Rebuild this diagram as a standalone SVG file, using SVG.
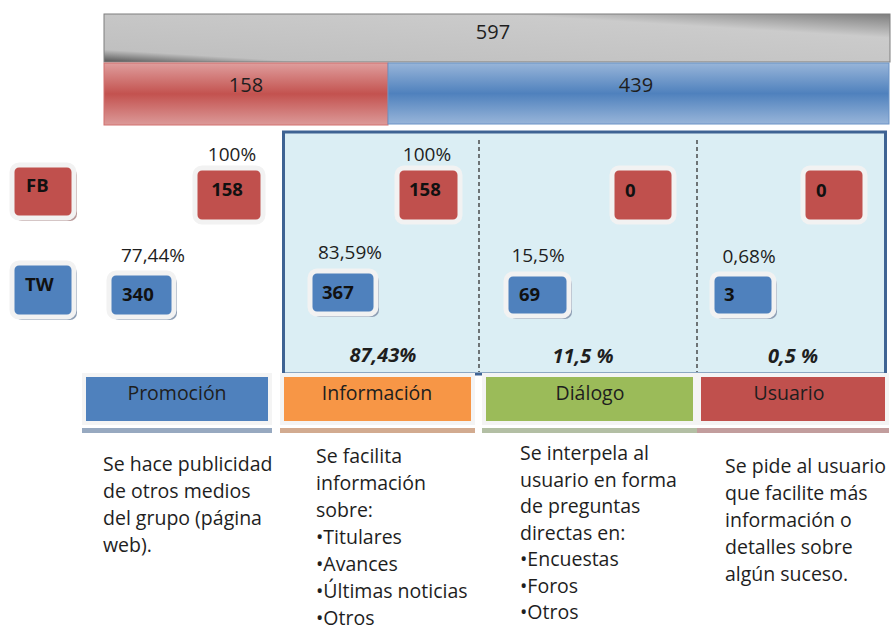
<svg xmlns="http://www.w3.org/2000/svg" width="891" height="625" viewBox="0 0 891 625">
<defs>
<linearGradient id="gGrey" x1="0" y1="1" x2="1" y2="0">
<stop offset="0" stop-color="#555555"/><stop offset="0.13" stop-color="#c0c0c0"/><stop offset="0.75" stop-color="#cbcbcb"/><stop offset="1" stop-color="#7e7e7e"/>
</linearGradient>
<linearGradient id="gRed" x1="0" y1="0" x2="0" y2="1">
<stop offset="0" stop-color="#df9e9d"/><stop offset="0.5" stop-color="#c3524f"/><stop offset="1" stop-color="#dc9a99"/>
</linearGradient>
<linearGradient id="gBlue" x1="0" y1="0" x2="0" y2="1">
<stop offset="0" stop-color="#98b5d9"/><stop offset="0.5" stop-color="#4f81bd"/><stop offset="1" stop-color="#98b5d9"/>
</linearGradient>
</defs>
<style>
.t{font-family:"Open Sans","Liberation Sans",sans-serif;fill:#1e1e1e;}
.pct{font-size:19px;text-anchor:middle;}
.bi{font-size:20px;font-weight:bold;font-style:italic;text-anchor:middle;}
.num{font-family:"Open Sans","Liberation Sans",sans-serif;font-weight:bold;font-size:18.5px;fill:#111;}
.box{stroke:#f2f2f2;stroke-width:5;}
.red{fill:#c0504d;}
.blue{fill:#4f81bd;}
.shR{fill:#b99a9a;}
.shB{fill:#8f9fb5;}
.cat{stroke:#f4f4f4;stroke-width:4;}
.catt{font-size:19.5px;text-anchor:middle;}
.body{font-size:19.5px;}
.dash{stroke:#333;stroke-width:1.3;stroke-dasharray:4 3;fill:none;}
</style>

<g id="total-597">
<rect x="104" y="14" width="786" height="48" fill="url(#gGrey)" stroke="#7f7f7f" stroke-width="1"/>
<text class="t" x="493" y="39" font-size="20" text-anchor="middle">597</text>
</g>
<g id="fb-158-bar">
<rect x="104" y="63" width="284" height="62" fill="url(#gRed)" stroke="#d2706e" stroke-width="1"/>
<text class="t" x="246" y="92" font-size="20" text-anchor="middle">158</text>
</g>
<g id="tw-439-bar">
<rect x="388" y="63" width="501" height="61" fill="url(#gBlue)" stroke="#6b93c6" stroke-width="1"/>
<text class="t" x="636" y="92" font-size="20" text-anchor="middle">439</text>
</g>

<g id="panel">
<rect x="283.5" y="132" width="602" height="242" fill="#dbeef4" stroke="#3e6393" stroke-width="3"/>
</g>

<g id="connectors">
<line class="dash" x1="479" y1="140" x2="479" y2="372"/>
<line class="dash" x1="697" y1="140" x2="697" y2="372"/>
</g>

<g id="fb-label">
<rect x="15" y="168" width="62" height="53" rx="7" class="shR"/>
<rect x="12" y="165" width="62" height="53" rx="7" class="box red"/>
<text class="num" x="26" y="192">FB</text>
</g>
<g id="tw-label">
<rect x="15" y="266" width="62" height="54" rx="7" class="shB"/>
<rect x="12" y="263" width="62" height="54" rx="7" class="box blue"/>
<text class="num" x="25" y="291">TW</text>
</g>

<g id="promo-fb">
<text class="t pct" x="232" y="161">100%</text>
<rect x="195" y="168" width="68" height="54" rx="7" class="box red"/>
<text class="num" x="227" y="196" text-anchor="middle">158</text>
</g>
<g id="promo-tw">
<text class="t pct" x="153" y="262">77,44%</text>
<rect x="112" y="276" width="65" height="44" rx="7" class="shB"/>
<rect x="109" y="273" width="65" height="44" rx="7" class="box blue"/>
<text class="num" x="122" y="301">340</text>
</g>

<g id="info-fb">
<text class="t pct" x="427" y="161">100%</text>
<rect x="397" y="168" width="63" height="54" rx="7" class="box red"/>
<text class="num" x="409" y="196">158</text>
</g>
<g id="info-tw">
<text class="t pct" x="350" y="259">83,59%</text>
<rect x="313" y="274" width="66" height="43" rx="7" class="shB"/>
<rect x="310" y="271" width="66" height="43" rx="7" class="box blue"/>
<text class="num" x="322" y="299">367</text>
</g>
<g id="info-total"><text class="t bi" x="383" y="362">87,43%</text></g>

<g id="dialog-fb">
<rect x="612" y="168" width="62" height="54" rx="7" class="box red"/>
<text class="num" x="625" y="197">0</text>
</g>
<g id="dialog-tw">
<text class="t pct" x="538" y="262">15,5%</text>
<rect x="509" y="277" width="63" height="42" rx="7" class="shB"/>
<rect x="506" y="274" width="63" height="42" rx="7" class="box blue"/>
<text class="num" x="519" y="301">69</text>
</g>
<g id="dialog-total"><text class="t bi" x="583" y="363">11,5 %</text></g>

<g id="user-fb">
<rect x="803" y="168" width="62" height="54" rx="7" class="box red"/>
<text class="num" x="816" y="197">0</text>
</g>
<g id="user-tw">
<text class="t pct" x="749" y="263">0,68%</text>
<rect x="715" y="277" width="62" height="42" rx="7" class="shB"/>
<rect x="712" y="274" width="62" height="42" rx="7" class="box blue"/>
<text class="num" x="724" y="301">3</text>
</g>
<g id="user-total"><text class="t bi" x="793" y="363">0,5 %</text></g>

<g id="cat-promocion">
<rect x="82" y="428" width="190" height="5" fill="#97a9c0"/>
<rect x="84" y="375" width="186" height="48" class="cat" fill="#4f81bd"/>
<text class="t catt" x="177" y="400">Promoción</text>
</g>
<g id="cat-informacion">
<rect x="280" y="428" width="195" height="5" fill="#d2ab90"/>
<rect x="282" y="375" width="191" height="48" class="cat" fill="#f79646"/>
<text class="t catt" x="377" y="400">Información</text>
</g>
<g id="cat-dialogo">
<rect x="482" y="428" width="215" height="5" fill="#b3bfa4"/>
<rect x="484" y="375" width="211" height="48" class="cat" fill="#9bbb59"/>
<text class="t catt" x="590" y="400">Diálogo</text>
</g>
<g id="cat-usuario">
<rect x="697" y="428" width="192" height="5" fill="#c29d9d"/>
<rect x="699" y="375" width="188" height="48" class="cat" fill="#c0504d"/>
<text class="t catt" x="789" y="400">Usuario</text>
</g>

<g id="desc-promocion">
<text class="t body" x="103" y="471">Se hace publicidad</text>
<text class="t body" x="103" y="498">de otros medios</text>
<text class="t body" x="103" y="525">del grupo (página</text>
<text class="t body" x="103" y="552">web).</text>
</g>
<g id="desc-informacion">
<text class="t body" x="316" y="463">Se facilita</text>
<text class="t body" x="316" y="490">información</text>
<text class="t body" x="316" y="517">sobre:</text>
<text class="t body" x="316" y="544">•Titulares</text>
<text class="t body" x="316" y="571">•Avances</text>
<text class="t body" x="316" y="598">•Últimas noticias</text>
<text class="t body" x="316" y="625">•Otros</text>
</g>
<g id="desc-dialogo">
<text class="t body" x="520" y="460">Se interpela al</text>
<text class="t body" x="520" y="486.5">usuario en forma</text>
<text class="t body" x="520" y="513">de preguntas</text>
<text class="t body" x="520" y="539.5">directas en:</text>
<text class="t body" x="520" y="566">•Encuestas</text>
<text class="t body" x="520" y="592.5">•Foros</text>
<text class="t body" x="520" y="619">•Otros</text>
</g>
<g id="desc-usuario">
<text class="t body" x="725" y="473">Se pide al usuario</text>
<text class="t body" x="725" y="500">que facilite más</text>
<text class="t body" x="725" y="527">información o</text>
<text class="t body" x="725" y="554">detalles sobre</text>
<text class="t body" x="725" y="581">algún suceso.</text>
</g>
</svg>
